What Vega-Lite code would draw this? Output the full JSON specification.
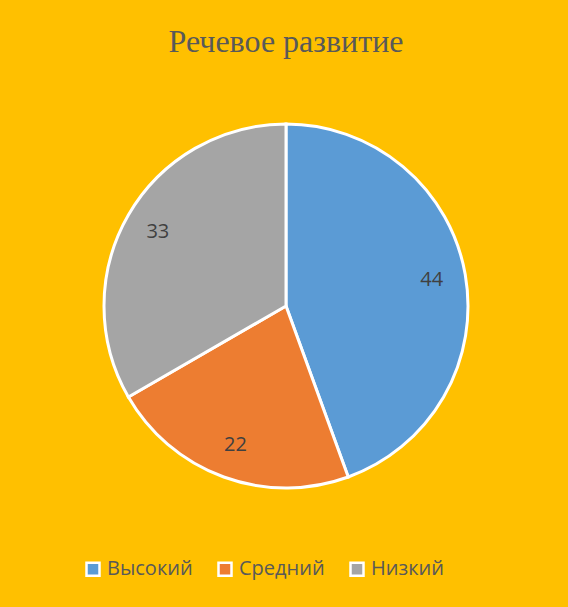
{
  "$schema": "https://vega.github.io/schema/vega-lite/v6.json",
  "autosize": {"type": "none"},
  "width": 364,
  "height": 364,
  "padding": {"left": 104, "top": 124, "right": 100, "bottom": 119},
  "background": "#FFC000",
  "title": {
    "text": "Речевое развитие",
    "font": "Liberation Serif",
    "fontSize": 32,
    "fontWeight": "normal",
    "color": "#595959",
    "anchor": "middle",
    "offset": 59
  },
  "data": {
    "values": [
      {"category": "Высокий", "value": 44, "order": 1},
      {"category": "Средний", "value": 22, "order": 2},
      {"category": "Низкий", "value": 33, "order": 3}
    ]
  },
  "encoding": {
    "theta": {"field": "value", "type": "quantitative", "stack": true},
    "order": {"field": "order", "type": "quantitative"},
    "color": {
      "field": "category",
      "type": "nominal",
      "sort": ["Высокий", "Средний", "Низкий"],
      "scale": {"domain": ["Высокий", "Средний", "Низкий"], "range": ["#5B9BD5", "#ED7D31", "#A5A5A5"]},
      "legend": {
        "title": null,
        "orient": "none",
        "legendX": -21,
        "legendY": 435,
        "direction": "horizontal",
        "symbolType": "square",
        "symbolSize": 169,
        "symbolStrokeColor": "white",
        "symbolStrokeWidth": 2.5,
        "labelFont": "Open Sans",
        "labelFontSize": 20,
        "labelColor": "#595959",
        "labelOffset": 4,
        "columnPadding": 20,
        "symbolOffset": 0
      }
    }
  },
  "layer": [
    {
      "mark": {"type": "arc", "outerRadius": 182, "stroke": "white", "strokeWidth": 3}
    },
    {
      "mark": {"type": "text", "radius": 148, "font": "Open Sans", "fontSize": 20, "align": "center", "baseline": "middle"},
      "encoding": {
        "text": {"field": "value", "type": "quantitative"},
        "color": {"value": "#404040"}
      }
    }
  ],
  "config": {"view": {"stroke": null}}
}
